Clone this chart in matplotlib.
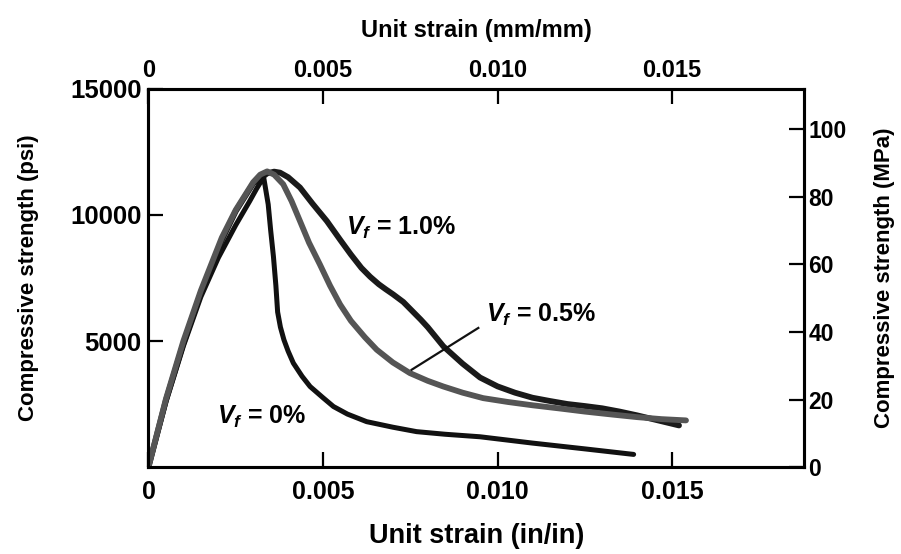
import matplotlib.pyplot as plt
import numpy as np

plt.rcParams['font.family'] = ['Liberation Sans', 'DejaVu Sans']
plt.rcParams['mathtext.fontset'] = 'custom'
plt.rcParams['mathtext.it'] = 'Liberation Sans:italic:bold'
plt.rcParams['mathtext.rm'] = 'Liberation Sans:bold'

# stress-strain curves, strain in in/in, stress in psi
strain_0 = [0, 0.0005, 0.001, 0.0015, 0.002, 0.0025, 0.0029, 0.0031, 0.0033,
            0.00336, 0.00343, 0.0035, 0.00358, 0.00365, 0.0037, 0.00378, 0.00388, 0.004,
            0.00415, 0.0044, 0.00463, 0.005, 0.0053, 0.0057, 0.00625, 0.007, 0.00768,
            0.0085, 0.0095, 0.011, 0.0125, 0.0139]
stress_0 = [0, 2580, 4800, 6750, 8300, 9600, 10550, 11050, 11500,
            11000, 10420, 9400, 8350, 7200, 6150, 5550, 5050, 4600,
            4125, 3600, 3194, 2750, 2400, 2100, 1800, 1580, 1404,
            1300, 1200, 950, 720, 500]

strain_05 = [0, 0.0005, 0.001, 0.0015, 0.0021, 0.0025, 0.003, 0.0032, 0.0034, 0.0036,
             0.00386, 0.0041, 0.00434, 0.0046, 0.00491, 0.0052, 0.00549, 0.0058, 0.0062,
             0.00654, 0.007, 0.00749, 0.008, 0.00845, 0.009, 0.00959, 0.0103, 0.0110,
             0.0118, 0.0125, 0.0133, 0.014, 0.0147, 0.0154]
stress_05 = [0, 2700, 5000, 7000, 9100, 10200, 11300, 11600, 11730, 11600,
             11220, 10550, 9760, 8900, 8040, 7200, 6450, 5800, 5150,
             4654, 4150, 3727, 3420, 3194, 2950, 2733, 2580, 2450,
             2320, 2200, 2080, 1980, 1900, 1850]

strain_10 = [0, 0.0005, 0.001, 0.0015, 0.0021, 0.0025, 0.003, 0.0034, 0.0036, 0.00377,
             0.004, 0.00434, 0.0047, 0.00511, 0.0055, 0.0058, 0.0061, 0.00635, 0.0066,
             0.0068, 0.00701, 0.0073, 0.00755, 0.0078, 0.008, 0.00845, 0.009, 0.0095,
             0.010, 0.0105, 0.011, 0.0115, 0.012, 0.0125, 0.013, 0.0135, 0.014, 0.0146,
             0.0152]
stress_10 = [0, 2650, 4900, 6900, 9000, 10150, 11250, 11650, 11720, 11680,
             11500, 11090, 10450, 9760, 9000, 8430, 7900, 7550, 7250,
             7050, 6850, 6550, 6200, 5850, 5550, 4786, 4100, 3550,
             3200, 2950, 2750, 2620, 2500, 2420, 2330, 2200, 2050, 1850,
             1650]

xticks = [0, 0.005, 0.010, 0.015]
xticklabels = ['0', '0.005', '0.010', '0.015']
psi_ticks = [5000, 10000, 15000]
mpa_ticks = [0, 20, 40, 60, 80, 100]

fig = plt.figure(figsize=(9.01, 5.54), dpi=100)
ax = fig.add_axes([0.1648, 0.157, 0.7275, 0.6824])

kw = dict(solid_capstyle='round', solid_joinstyle='round')
ax.plot(strain_0, stress_0, color='#111111', lw=3.6, zorder=3, **kw)
ax.plot(strain_10, stress_10, color='#1a1a1a', lw=4.2, zorder=2, **kw)
ax.plot(strain_05, stress_05, color='#555555', lw=4.2, zorder=4, **kw)

ax.set_xlim(0, 0.01878)
ax.set_ylim(0, 15000)
ax.set_xticks(xticks)
ax.set_xticklabels(xticklabels)
ax.set_yticks(psi_ticks)
ax.set_yticklabels(['5000', '10000', '15000'])
ax.tick_params(axis='x', direction='in', length=11, width=1.6, labelsize=18, pad=9)
ax.tick_params(axis='y', direction='in', length=11, width=1.6, labelsize=18.5, pad=5)
for lab in ax.get_xticklabels() + ax.get_yticklabels():
    lab.set_fontweight('bold')
for s in ax.spines.values():
    s.set_linewidth(2.2)

ax.set_xlabel('Unit strain (in/in)', fontsize=19.5, fontweight='bold', labelpad=14)
ax.set_ylabel('Compressive strength (psi)', fontsize=16, fontweight='bold', labelpad=22)

top = ax.secondary_xaxis('top')
top.set_xticks(xticks)
top.set_xticklabels(xticklabels)
top.tick_params(direction='in', length=11, width=1.6, labelsize=17, pad=5)
for lab in top.get_xticklabels():
    lab.set_fontweight('bold')
top.set_xlabel('Unit strain (mm/mm)', fontsize=17, fontweight='bold', labelpad=16)

right = ax.twinx()
right.set_ylim(0, 112)
right.set_yticks(mpa_ticks)
right.tick_params(direction='in', length=11, width=1.6, labelsize=16.5, pad=3)
for lab in right.get_yticklabels():
    lab.set_fontweight('bold')
right.set_ylabel('Compressive strength (MPa)', fontsize=16, fontweight='bold', labelpad=20)
for s in right.spines.values():
    s.set_linewidth(2.2)

ax.text(0.00723, 9500, r'$V_f$ = 1.0%', fontsize=18, fontweight='bold', ha='center', va='center')
ax.text(0.01125, 6050, r'$V_f$ = 0.5%', fontsize=18, fontweight='bold', ha='center', va='center')
ax.text(0.00324, 2000, r'$V_f$ = 0%', fontsize=18, fontweight='bold', ha='center', va='center')
ax.plot([0.00754, 0.00945], [3860, 5518], color='#111111', lw=1.6, zorder=5)

fig.savefig('out.png', dpi=100)
